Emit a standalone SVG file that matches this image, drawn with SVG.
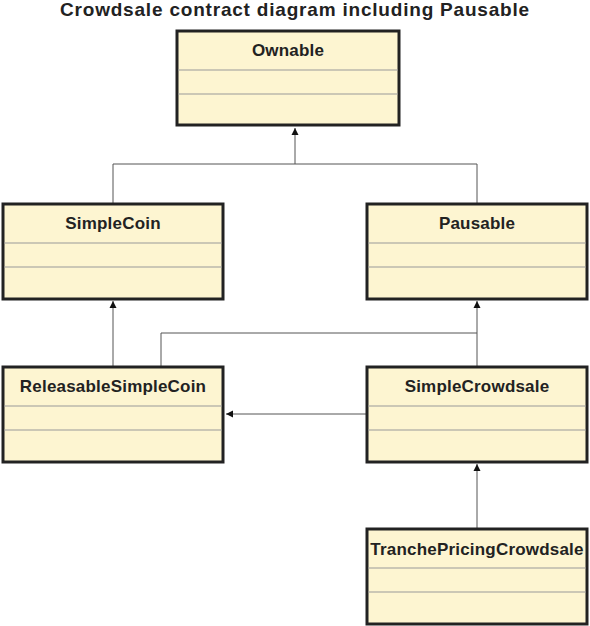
<svg xmlns="http://www.w3.org/2000/svg" width="590" height="626" viewBox="0 0 590 626">
<defs>
<style>
.box{fill:#fdf5d1;stroke:#222;stroke-width:3}
.div{stroke:#999;stroke-width:1}
.lbl{font-family:"Liberation Sans",Arial,sans-serif;font-weight:bold;font-size:17px;letter-spacing:0.2px;fill:#222;text-anchor:middle}
.title{font-family:"Liberation Sans",Arial,sans-serif;font-weight:bold;font-size:19px;letter-spacing:0.8px;fill:#222;text-anchor:middle}
.conn{fill:none;stroke:#555;stroke-width:1}
</style>
<marker id="arr" viewBox="0 0 10 10" refX="10" refY="5" markerWidth="7" markerHeight="8" orient="auto" markerUnits="userSpaceOnUse">
<path d="M0,0 L10,5 L0,10 Z" fill="#111"/>
</marker>
</defs>
<rect width="590" height="626" fill="#fff"/>
<text class="title" x="295" y="16">Crowdsale contract diagram including Pausable</text>
<g id="connectors">
<path class="conn" d="M113,203 V164 H477 V203"/>
<path class="conn" d="M295,164 V128" marker-end="url(#arr)"/>
<path class="conn" d="M113,366 V301" marker-end="url(#arr)"/>
<path class="conn" d="M161,366 V333 H477"/>
<path class="conn" d="M477,366 V301" marker-end="url(#arr)"/>
<path class="conn" d="M366,414 H226" marker-end="url(#arr)"/>
<path class="conn" d="M477,528 V464" marker-end="url(#arr)"/>
</g>
<g id="Ownable">
<rect class="box" x="177" y="31" width="222" height="94"/>
<line class="div" x1="178" y1="70" x2="398" y2="70"/>
<line class="div" x1="178" y1="94" x2="398" y2="94"/>
<text class="lbl" x="288" y="56">Ownable</text>
</g>
<g id="SimpleCoin">
<rect class="box" x="3" y="204" width="220" height="95"/>
<line class="div" x1="4" y1="243" x2="222" y2="243"/>
<line class="div" x1="4" y1="267" x2="222" y2="267"/>
<text class="lbl" x="113" y="229">SimpleCoin</text>
</g>
<g id="Pausable">
<rect class="box" x="367" y="204" width="220" height="95"/>
<line class="div" x1="368" y1="243" x2="586" y2="243"/>
<line class="div" x1="368" y1="267" x2="586" y2="267"/>
<text class="lbl" x="477" y="229">Pausable</text>
</g>
<g id="ReleasableSimpleCoin">
<rect class="box" x="3" y="367" width="220" height="95"/>
<line class="div" x1="4" y1="406" x2="222" y2="406"/>
<line class="div" x1="4" y1="430" x2="222" y2="430"/>
<text class="lbl" x="113" y="392">ReleasableSimpleCoin</text>
</g>
<g id="SimpleCrowdsale">
<rect class="box" x="367" y="367" width="220" height="95"/>
<line class="div" x1="368" y1="406" x2="586" y2="406"/>
<line class="div" x1="368" y1="430" x2="586" y2="430"/>
<text class="lbl" x="477" y="392">SimpleCrowdsale</text>
</g>
<g id="TranchePricingCrowdsale">
<rect class="box" x="367" y="529" width="220" height="95"/>
<line class="div" x1="368" y1="568" x2="586" y2="568"/>
<line class="div" x1="368" y1="592" x2="586" y2="592"/>
<text class="lbl" x="477" y="555">TranchePricingCrowdsale</text>
</g>
</svg>
